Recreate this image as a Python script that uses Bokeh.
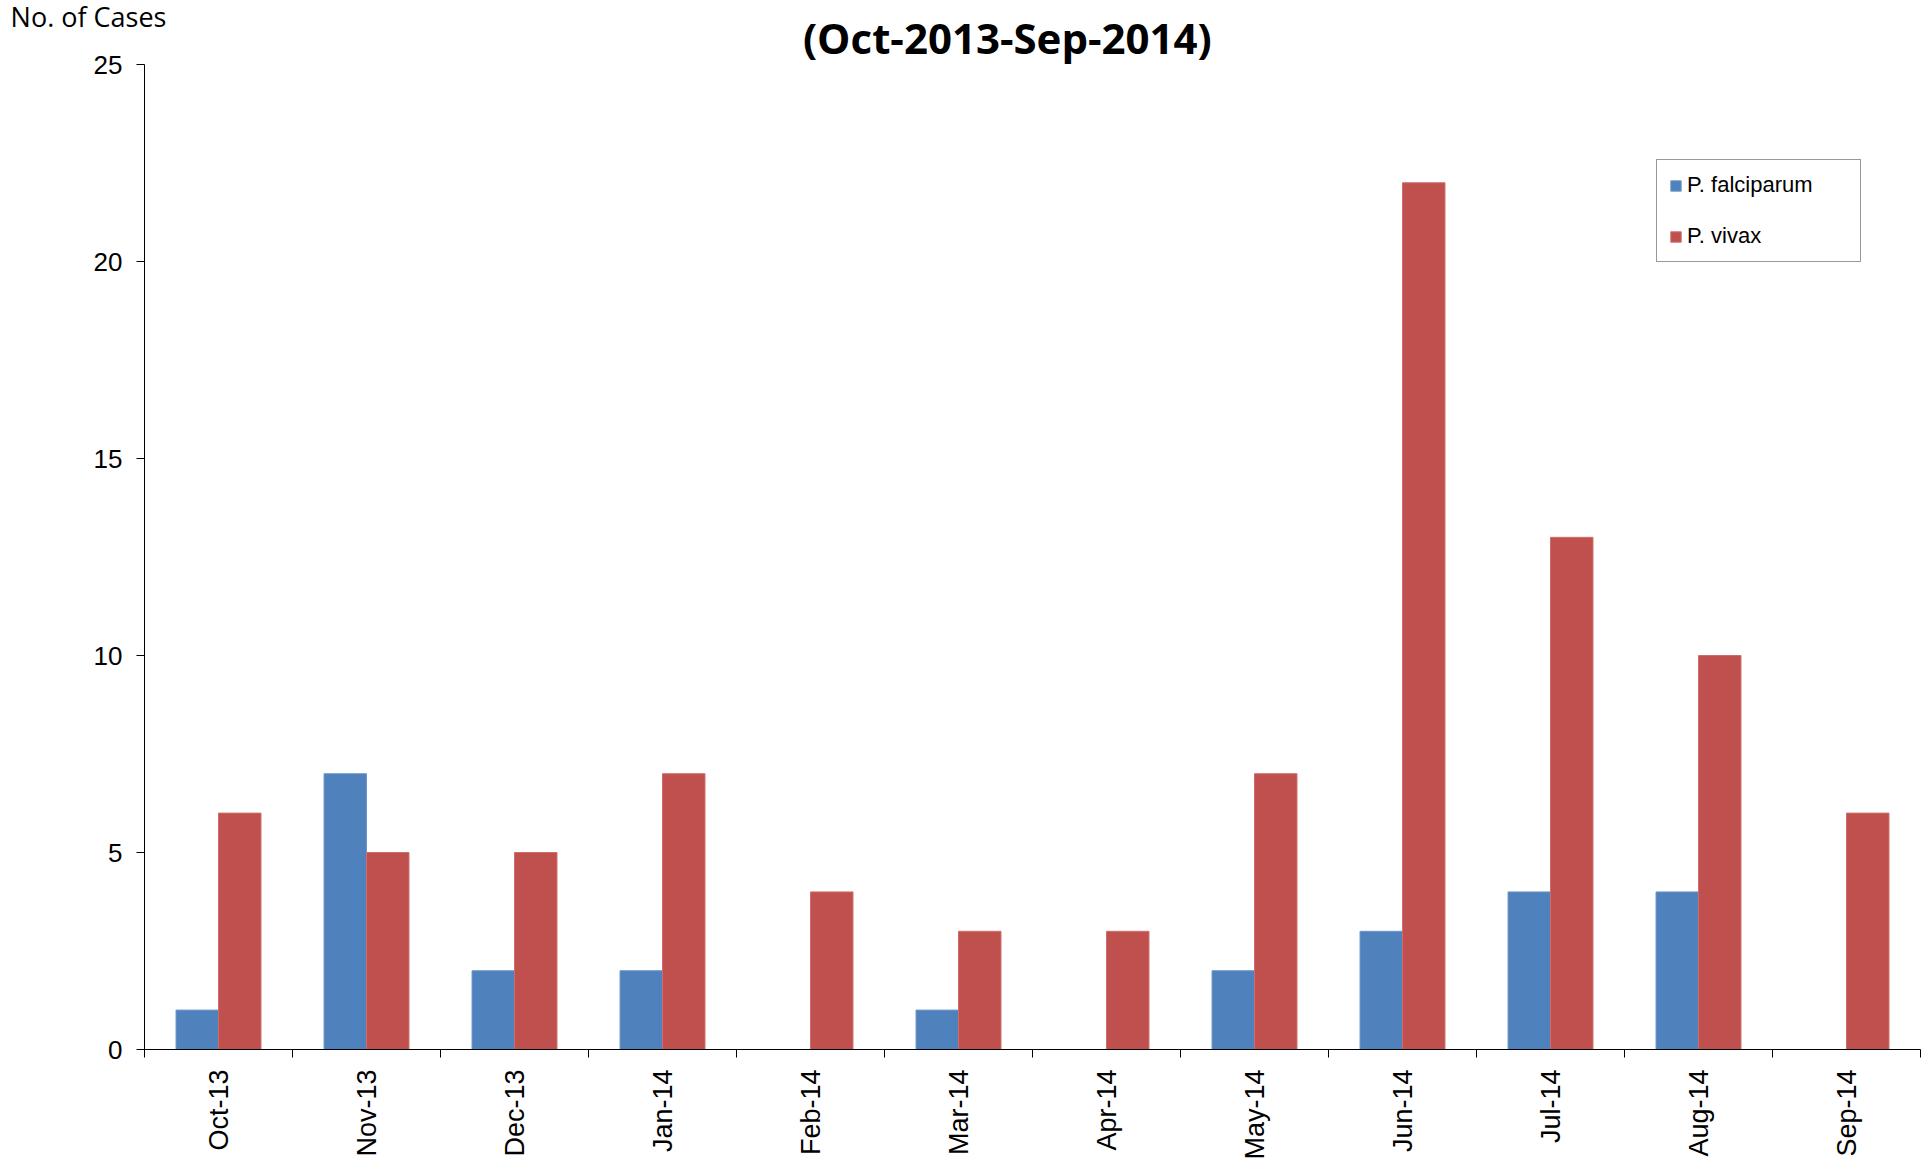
import math
from bokeh.plotting import figure
from bokeh.models import (ColumnDataSource, Range1d, LinearAxis,
                          FixedTicker, Legend, LegendItem, Label)
from bokeh.transform import dodge
from bokeh.embed import file_html
from bokeh.resources import INLINE

months = ["Oct-13", "Nov-13", "Dec-13", "Jan-14", "Feb-14", "Mar-14",
          "Apr-14", "May-14", "Jun-14", "Jul-14", "Aug-14", "Sep-14"]
falciparum = [1, 7, 2, 2, 0, 1, 0, 2, 3, 4, 4, 0]
vivax = [6, 5, 5, 7, 4, 3, 3, 7, 22, 13, 10, 6]
y_ticks = [0, 5, 10, 15, 20, 25]
title_text = "(Oct-2013-Sep-2014)"
y_title = "No. of Cases"

BLUE = "#4F81BD"
RED = "#C0504D"

n = len(months)
centers = [i + 0.5 for i in range(n)]
bounds = list(range(n + 1))
src = ColumnDataSource(dict(xc=centers, month=months, pf=falciparum, pv=vivax))

W, H = 1931, 1162
Y_TOP = 26.22  # frame extends above the 0-25 axis so the title sits inside it
p = figure(width=W, height=H, x_range=Range1d(0, n), y_range=Range1d(0, Y_TOP),
           output_backend="svg", toolbar_location=None, x_axis_location=None,
           min_border_left=144, min_border_right=11, min_border_top=16, min_border_bottom=113)
p.outline_line_color = None
p.xgrid.grid_line_color = None
p.ygrid.grid_line_color = None
p.background_fill_color = "white"
p.border_fill_color = "white"

bw = 0.287
r1 = p.vbar(x=dodge("xc", -0.1435), top="pf", width=bw, source=src,
            fill_color=BLUE, line_color="#6F97C8", line_width=1)
r2 = p.vbar(x=dodge("xc", 0.1435), top="pv", width=bw, source=src,
            fill_color=RED, line_color="#CC6E6B", line_width=1)

# y axis
ya = p.yaxis[0]
ya.ticker = FixedTicker(ticks=y_ticks)
ya.bounds = (0, 25)
ya.minor_tick_line_color = None
ya.major_tick_in = 0
ya.major_tick_out = 8
ya.axis_line_color = "black"
ya.major_tick_line_color = "black"
ya.major_label_text_font = "Liberation Sans"
ya.major_label_text_font_size = "26px"
ya.major_label_text_color = "black"
ya.major_label_standoff = 14

# axis carrying only the "No. of Cases" caption at the top
cap_axis = LinearAxis(ticker=FixedTicker(ticks=[]), axis_label=y_title)
cap_axis.axis_line_color = None
cap_axis.major_tick_line_color = None
cap_axis.minor_tick_line_color = None
cap_axis.major_tick_out = 0
cap_axis.major_tick_in = 0
cap_axis.major_label_standoff = 0
cap_axis.axis_label_orientation = "horizontal"
cap_axis.axis_label_align = "end"
cap_axis.axis_label_standoff = -76
cap_axis.axis_label_text_font = "Open Sans"
cap_axis.axis_label_text_font_style = "normal"
cap_axis.axis_label_text_font_size = "27px"
cap_axis.axis_label_text_color = "black"
p.add_layout(cap_axis, "left")

# x axis: labels at category centres, ticks (minor) at category boundaries
xa = LinearAxis(ticker=FixedTicker(ticks=centers, minor_ticks=bounds),
                major_label_overrides={c: m for c, m in zip(centers, months)})
xa.axis_line_color = "black"
xa.major_tick_line_color = None
xa.major_tick_out = 0
xa.major_tick_in = 0
xa.minor_tick_line_color = "black"
xa.minor_tick_out = 8
xa.minor_tick_in = 0
xa.major_label_orientation = math.pi / 2
xa.major_label_text_font = "Liberation Sans"
xa.major_label_text_font_size = "27px"
xa.major_label_text_color = "black"
xa.major_label_standoff = 12
p.add_layout(xa, "below")

legend = Legend(items=[LegendItem(label="P. falciparum", renderers=[r1]),
                       LegendItem(label="P. vivax", renderers=[r2])],
                location=(1512, 787), margin=0, padding=12, spacing=25,
                glyph_width=13, glyph_height=13, label_height=24, label_width=161,
                label_standoff=5, label_text_font="Liberation Sans", label_text_font_size="22px",
                label_text_color="black", border_line_color="#333333", border_line_width=1,
                background_fill_color="white", background_fill_alpha=1.0)
p.add_layout(legend, "center")

p.add_layout(Label(x=5.83, y=25.69, text=title_text,
                   text_font="Open Sans", text_font_style="bold", text_font_size="42px",
                   text_align="center", text_baseline="middle", text_color="black"))

open("out.html", "w").write(file_html(p, INLINE))
